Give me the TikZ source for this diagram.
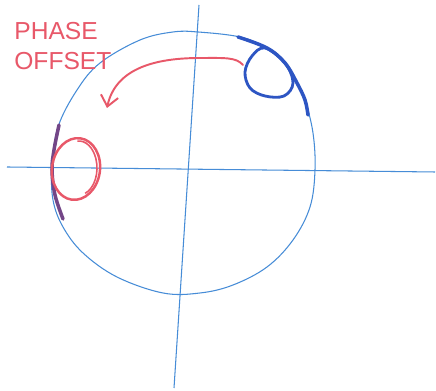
\documentclass[tikz,border=0pt]{standalone}
\usepackage{fontspec}
\setmainfont{Liberation Sans}
\usetikzlibrary{shapes.geometric,arrows.meta}

\definecolor{penblue}{RGB}{70,140,215}
\definecolor{inkblue}{RGB}{45,85,195}
\definecolor{penred}{RGB}{232,88,105}
\definecolor{smudge}{RGB}{115,70,135}

\begin{document}
\begin{tikzpicture}[x=0.02cm,y=0.02cm,
  axis/.style={penblue,line width=0.6pt},
  overlap/.style={line width=2pt,line cap=round},
  spot/.style={ellipse,draw,inner sep=0pt},
  offsetarrow/.style={penred,line width=1.1pt,line cap=round,
    -{Straight Barb[length=6pt,width=10pt]}}]

  \useasboundingbox (0,0) rectangle (436,391);
  \fill[white] (0,0) rectangle (436,391);

  % axes and the (hand drawn) unit circle
  \draw[axis] (7,224) -- (435,219);
  \draw[axis] (199,386) -- (174,3);
  \draw[axis] plot[smooth cycle,tension=0.6] coordinates {
    (198,359) (240,354) (267,343) (285,328) (297,308) (305,291)
    (313,258) (315,221) (310,184) (293,151) (267,124) (233,106)
    (200,98) (163,98) (117,114) (83,138) (63,164) (53,191)
    (52,224) (58,264) (77,301) (100,328) (140,351) (173,359)};

  % darker strokes where the spots touch the circle
  \draw[overlap,inkblue] plot[smooth,tension=0.6] coordinates {
    (238,354) (267,343) (285,328) (297,308) (305,291) (308,276)};
  \draw[overlap,smudge] plot[smooth,tension=0.6] coordinates {
    (59,266) (54,241) (52,221) (55,196) (63,172)};

  % blue spot, pressed against the circle
  \draw[inkblue,line width=1.6pt] plot[smooth cycle,tension=0.6] coordinates {
    (265,343) (252,335) (245,319) (250,303) (265,295) (284,295)
    (293,308) (285,328)};

  % red spot, after the phase offset
  \node[spot,draw=penred,line width=1.4pt,minimum width=0.96cm,minimum height=1.24cm,rotate=-8]
    (redspot) at (76,222) {};
  \draw[penred,line width=0.9pt] (79,223) ++(-70:18 and 27)
    arc[start angle=-70,end angle=95,x radius=18,y radius=27];

  \coordinate (tail) at (243,326);
  \coordinate (tip)  at (107,283);
  \draw[offsetarrow] (tail) .. controls (236,334) and (225,333) .. (200,333)
                            .. controls (150,333) and (115,320) .. (tip);

  \node[penred,anchor=west,align=left,inner sep=0pt,font=\fontsize{14}{17}\selectfont]
    (offsetlabel) at (14,345) {PHASE\\OFFSET};

\end{tikzpicture}
\end{document}
